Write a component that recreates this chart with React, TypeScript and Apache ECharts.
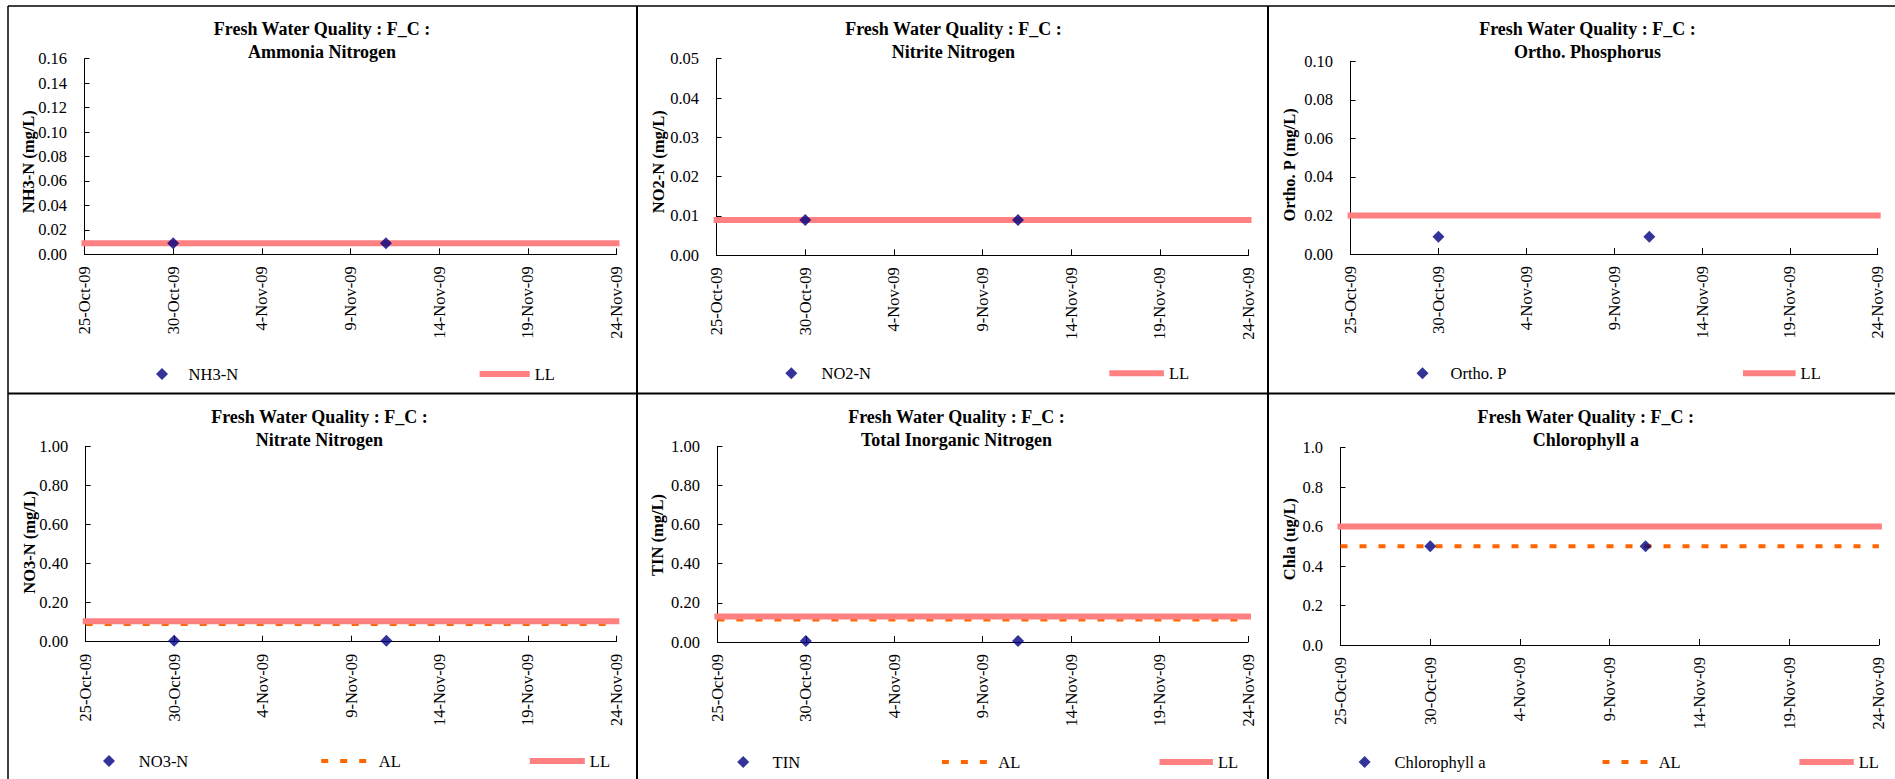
import React, { useEffect, useRef } from 'react';
import * as echarts from 'echarts';

const FONT = "'Liberation Serif', 'Times New Roman', Times, serif";
const NAVY = '#000080';
const SALMON = '#FF8080';
const ORANGE = '#FF6600';
const DAY_MS = 86400000;

// ---- data ----
const startDate = '2009-10-25';
const endDate = '2009-11-24';
const sampleDates = ['2009-10-30', '2009-11-11'];

const nh3nValues = [0.009, 0.009];
const no2nValues = [0.009, 0.009];
const orthoPValues = [0.009, 0.009];
const no3nValues = [0.005, 0.005];
const tinValues = [0.005, 0.005];
const chlaValues = [0.5, 0.5];

const llValues = [0.009, 0.009, 0.02, 0.105, 0.13, 0.6];
const alValues: (number | null)[] = [null, null, null, 0.09, 0.115, 0.5];

const titlePrefix = 'Fresh Water Quality : F_C :';
const panelTitles = ['Ammonia Nitrogen', 'Nitrite Nitrogen', 'Ortho. Phosphorus', 'Nitrate Nitrogen', 'Total Inorganic Nitrogen', 'Chlorophyll a'];
const parameterNames = ['NH3-N', 'NO2-N', 'Ortho. P', 'NO3-N', 'TIN', 'Chlorophyll a'];
const yAxisNames = ['NH3-N (mg/L)', 'NO2-N (mg/L)', 'Ortho. P (mg/L)', 'NO3-N (mg/L)', 'TIN (mg/L)', 'Chla (ug/L)'];
const yMaxValues = [0.16, 0.05, 0.1, 1.0, 1.0, 1.0];
const yIntervals = [0.02, 0.01, 0.02, 0.2, 0.2, 0.2];
const yDecimals = [2, 2, 2, 2, 2, 1];
const xIntervalDays = 5;
const monthNames = ['Jan', 'Feb', 'Mar', 'Apr', 'May', 'Jun', 'Jul', 'Aug', 'Sep', 'Oct', 'Nov', 'Dec'];

const measuredValues = [nh3nValues, no2nValues, orthoPValues, no3nValues, tinValues, chlaValues];

// ---- layout (pixels) ----
type PanelLayout = {
  grid: [number, number, number, number];
  titleX: number;
  titleY: number;
  nameGap: number;
  nameShift: number;
  legendY: number;
  scatterLegend: [number, number];
  alLegend: [number, number] | null;
  llLegend: [number, number];
};

const panelLayout: PanelLayout[] = [
  { grid: [84.5, 58.7, 532, 195.6], titleX: 322, titleY: 17.8, nameGap: 47, nameShift: 5.2, legendY: 374,
    scatterLegend: [162, 188.6], alLegend: null, llLegend: [481.6, 534.7] },
  { grid: [716.6, 58.7, 531.9, 196.6], titleX: 953.4, titleY: 17.8, nameGap: 49.3, nameShift: 4.7, legendY: 373.3,
    scatterLegend: [791.3, 821.5], alLegend: null, llLegend: [1111.3, 1168.9] },
  { grid: [1350.6, 61.3, 527.1, 192.7], titleX: 1587.4, titleY: 17.8, nameGap: 51.7, nameShift: 7.3, legendY: 373.3,
    scatterLegend: [1422.5, 1450.6], alLegend: null, llLegend: [1745, 1800.6] },
  { grid: [85.7, 446.3, 530.6, 195.4], titleX: 319.4, titleY: 405.2, nameGap: 47.3, nameShift: -1.8, legendY: 761,
    scatterLegend: [109, 138.8], alLegend: [321.2, 378.8], llLegend: [531.8, 589.8] },
  { grid: [717.4, 446.3, 530.6, 195.7], titleX: 956.4, titleY: 405.2, nameGap: 51, nameShift: -9.2, legendY: 762,
    scatterLegend: [743.2, 772.6], alLegend: [941.9, 998.3], llLegend: [1161.5, 1217.9] },
  { grid: [1340.5, 447.7, 538.4, 197.3], titleX: 1585.8, titleY: 405.2, nameGap: 42.4, nameShift: -7.2, legendY: 762,
    scatterLegend: [1364.6, 1394.4], alLegend: [1602.5, 1658.7], llLegend: [1801.4, 1858.8] },
];

const startMs = Date.parse(startDate + 'T00:00:00Z');
const toDay = (s: string) => (Date.parse(s + 'T00:00:00Z') - startMs) / DAY_MS;
const fmtDate = (d: number) => {
  const dt = new Date(startMs + Math.round(d) * DAY_MS);
  return `${dt.getUTCDate()}-${monthNames[dt.getUTCMonth()]}-${String(dt.getUTCFullYear()).slice(2)}`;
};

const DIAMOND_ICON = 'path://M6 0L12 6L6 12L0 6Z';
const DASH_ICON = 'path://M0 0H7V4H0Z M19 0H26V4H19Z M38 0H45V4H38Z';

function buildOption() {
  const xDomain = [toDay(startDate), toDay(endDate)];
  const grids: any[] = [];
  const xAxes: any[] = [];
  const yAxes: any[] = [];
  const titles: any[] = [];
  const legends: any[] = [];
  const series: any[] = [];

  const labelText = { fontSize: 16.5, fontFamily: FONT, color: '#000' };

  panelLayout.forEach((p, i) => {
    const [gl, gt, gw, gh] = p.grid;
    grids.push({ left: gl, top: gt, width: gw, height: gh, containLabel: false });

    titles.push({
      text: `${titlePrefix}\n${panelTitles[i]}`,
      left: p.titleX,
      top: p.titleY,
      textAlign: 'center',
      padding: 0,
      textStyle: { fontSize: 18, fontWeight: 'bold', fontFamily: FONT, color: '#000', lineHeight: 23 },
    });

    xAxes.push({
      type: 'value',
      gridIndex: i,
      min: xDomain[0],
      max: xDomain[1],
      interval: xIntervalDays,
      axisLine: { show: true, onZero: false, lineStyle: { color: '#000', width: 1 } },
      axisTick: { show: true, inside: true, length: 6, lineStyle: { color: '#000', width: 1 } },
      axisLabel: { ...labelText, rotate: 90, margin: 12, formatter: (v: number) => fmtDate(v) },
      splitLine: { show: false },
    });

    const shift = p.nameShift;
    const namePadding = shift >= 0 ? [0, 2 * shift, 0, 0] : [0, 0, 0, -2 * shift];
    yAxes.push({
      type: 'value',
      gridIndex: i,
      min: 0,
      max: yMaxValues[i],
      interval: yIntervals[i],
      name: yAxisNames[i],
      nameLocation: 'middle',
      nameGap: p.nameGap,
      nameMoveOverlap: false,
      nameTextStyle: { fontSize: 16.5, fontWeight: 'bold', fontFamily: FONT, color: '#000', lineHeight: 18, padding: namePadding },
      axisLine: { show: true, lineStyle: { color: '#000', width: 1 } },
      axisTick: { show: true, inside: true, length: 5, lineStyle: { color: '#000', width: 1 } },
      axisLabel: { ...labelText, margin: 17.5, formatter: (v: number) => v.toFixed(yDecimals[i]) },
      splitLine: { show: false },
    });

    const al = alValues[i];
    if (al != null) {
      series.push({
        type: 'line', name: 'AL', xAxisIndex: i, yAxisIndex: i,
        data: xDomain.map((x) => [x, al]),
        symbol: 'none', showSymbol: false, clip: false, silent: true, z: 2,
        lineStyle: { color: ORANGE, width: 4, type: [7, 12] },
        itemStyle: { color: ORANGE },
      });
    }
    series.push({
      type: 'line', name: 'LL', xAxisIndex: i, yAxisIndex: i,
      data: xDomain.map((x) => [x, llValues[i]]),
      symbol: 'none', showSymbol: false, clip: false, silent: true, z: 3,
      lineStyle: { color: SALMON, width: 6, cap: 'square' },
      itemStyle: { color: SALMON },
    });
    series.push({
      type: 'scatter', name: parameterNames[i], xAxisIndex: i, yAxisIndex: i,
      data: sampleDates.map((d, j) => [toDay(d), measuredValues[i][j]]),
      symbol: 'diamond', symbolSize: 12, clip: false, silent: true, z: 4,
      itemStyle: { color: NAVY },
    });

    // legends
    const top = p.legendY - 10;
    const legendText = { ...labelText, lineHeight: 20 };
    const [sc, st] = p.scatterLegend;
    legends.push({
      data: [parameterNames[i]], left: sc - 6, top, padding: 0, selectedMode: false,
      itemWidth: 12, itemHeight: 12, icon: DIAMOND_ICON, itemStyle: { color: NAVY, borderWidth: 0 },
      textStyle: { ...legendText, padding: [0, 0, 0, Math.max(0, st - sc - 11)] },
    });
    if (p.alLegend) {
      const [as, at] = p.alLegend;
      legends.push({
        data: ['AL'], left: as, top, padding: 0, selectedMode: false,
        itemWidth: 45, itemHeight: 4, icon: DASH_ICON, itemStyle: { color: ORANGE, borderWidth: 0 },
        textStyle: { ...legendText, padding: [0, 0, 0, Math.max(0, at - as - 50)] },
      });
    }
    const [ls, lt] = p.llLegend;
    legends.push({
      data: ['LL'], left: ls - 2, top, padding: 0, selectedMode: false,
      itemWidth: lt - 5 - (ls - 2), itemHeight: 6, icon: 'rect', itemStyle: { color: SALMON, borderWidth: 0 },
      textStyle: legendText,
    });
  });

  const border = (x1: number, y1: number, x2: number, y2: number, w: number) => ({
    type: 'line', silent: true, z: 10,
    shape: { x1, y1, x2, y2 },
    style: { stroke: '#000', lineWidth: w },
  });

  return {
    animation: false,
    backgroundColor: '#fff',
    title: titles,
    legend: legends,
    grid: grids,
    xAxis: xAxes,
    yAxis: yAxes,
    series,
    graphic: [
      border(8, 6, 1895, 6, 1.5),
      border(8, 6, 8, 779, 1.5),
      border(637, 6, 637, 779, 2),
      border(1268, 6, 1268, 779, 2),
      border(8, 393.5, 1895, 393.5, 2),
    ],
  };
}

export default function App() {
  const ref = useRef<HTMLDivElement>(null);
  useEffect(() => {
    if (!ref.current) return;
    const chart = echarts.init(ref.current, undefined, { renderer: 'svg' });
    chart.setOption(buildOption() as any);
    return () => chart.dispose();
  }, []);
  return (
    <div
      ref={ref}
      style={{ position: 'fixed', left: 0, top: 0, width: 1895, height: 779, background: '#fff' }}
    />
  );
}
